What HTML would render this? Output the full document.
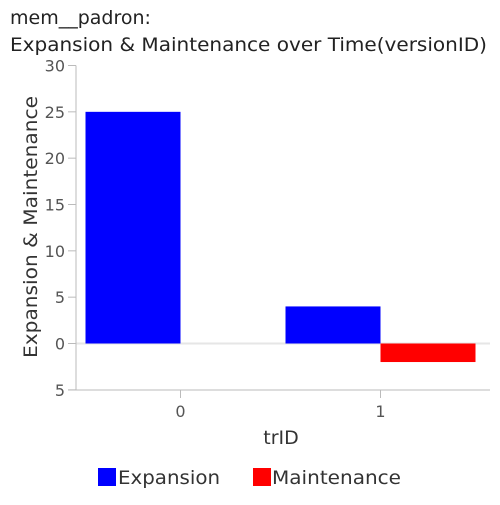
<!DOCTYPE html>
<html><head><meta charset="utf-8"><style>
body{margin:0;background:#fff;font-family:"Liberation Sans","DejaVu Sans",sans-serif}
</style></head><body>
<svg width="500" height="500" font-family="DejaVu Sans, Liberation Sans, sans-serif">
<text x="10" y="24" font-size="19" fill="#222">mem__padron:</text>
<text x="10" y="51" font-size="19" fill="#222" textLength="477" lengthAdjust="spacingAndGlyphs">Expansion &amp; Maintenance over Time(versionID)</text>
<g id="plot"></g>
<text transform="translate(37,227) rotate(-90)" text-anchor="middle" font-size="19" fill="#333" textLength="262" lengthAdjust="spacingAndGlyphs">Expansion &amp; Maintenance</text>
<text x="281" y="444" text-anchor="middle" font-size="19" fill="#333">trID</text>
<g>
<rect x="98" y="468" width="18" height="18" fill="#0000ff"/>
<text x="118" y="484" font-size="19" fill="#333" textLength="102" lengthAdjust="spacingAndGlyphs">Expansion</text>
<rect x="253" y="468" width="18" height="18" fill="#ff0000"/>
<text x="272" y="484" font-size="19" fill="#333" textLength="129" lengthAdjust="spacingAndGlyphs">Maintenance</text>
</g>
</svg>
<script>
const categories=["0","1"];
const expansion=[25,4];
const maintenance=[0,-2];
const yTicks=[30,25,20,15,10,5,0,-5];
const yTickLabels=["30","25","20","15","10","5","0","5"];
const NS="http://www.w3.org/2000/svg";
const g=document.getElementById('plot');
const x0=76,xEnd=490,yTop=65.5,yBot=390;
const y=v=>343.5-(v)*(343.5-yTop)/30;
const xc=i=>180.5+i*200;
const bw=95;
function mk(t,a){const e=document.createElementNS(NS,t);for(const k in a)e.setAttribute(k,a[k]);g.appendChild(e);return e;}
let z=mk('line',{x1:x0,x2:xEnd,y1:y(0),y2:y(0),stroke:'#e6e6e6','stroke-width':2});


categories.forEach((c,i)=>{
 const e=expansion[i];
 let r=mk('rect',{x:xc(i)-bw,y:Math.min(y(e),y(0)),width:bw,height:Math.abs(y(e)-y(0)),fill:'#0000ff'});
 
 
 const m=maintenance[i];
 let r2=mk('rect',{x:xc(i),y:Math.min(y(m),y(0)),width:bw,height:Math.abs(y(m)-y(0)),fill:'#ff0000'});
 
 
 let t=mk('line',{x1:xc(i),x2:xc(i),y1:yBot,y2:yBot+8,stroke:'#bbb'});
 
 
 let l=mk('text',{x:xc(i),y:417,'text-anchor':'middle','font-size':16,fill:'#555'});
 l.textContent=c;
 
 
});
yTicks.forEach((v,i)=>{
 let t=mk('line',{x1:x0-8,x2:x0,y1:y(v),y2:y(v),stroke:'#bbb'});
 
 
 let l=mk('text',{x:x0-11,y:y(v)+6,'text-anchor':'end','font-size':16,fill:'#555'});
 l.textContent=yTickLabels[i];
 
 
});
let ya=mk('line',{x1:x0,x2:x0,y1:yTop,y2:yBot,stroke:'#bbb'});


let xa=mk('line',{x1:x0-8,x2:xEnd,y1:yBot,y2:yBot,stroke:'#bbb'});


</script>
</body></html>
